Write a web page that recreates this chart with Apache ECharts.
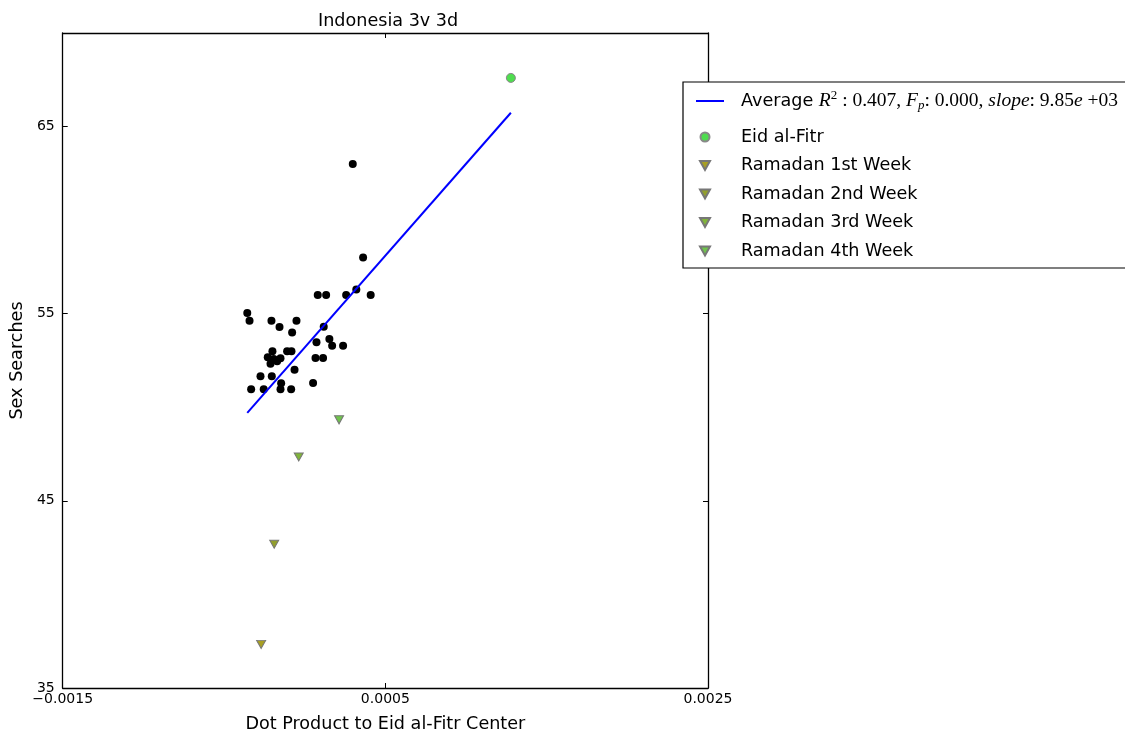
<!DOCTYPE html>
<html>
<head>
<meta charset="utf-8">
<script src="https://cdn.jsdelivr.net/npm/echarts@6/dist/echarts.min.js"></script>
<style>
    html, body { margin: 0; padding: 0; background: #fff; }
    #main { width: 1125px; height: 738px; }
</style>
</head>
<body>
<div id="main"></div>
<script>
    // 普通样本点
    var otherX = [0.000298, 0.000362, 0.000081, 0.000133, 0.000257, 0.000320, 0.000409,
        -0.000356, -0.000342, -0.000206, -0.000051, -0.000156, -0.000078, 0.000118,
        0.000073, 0.000153, 0.000170, 0.000238, -0.000200, -0.000109, -0.000082,
        -0.000229, -0.000192, -0.000150, -0.000212, 0.000067, 0.000114, -0.000063,
        -0.000274, -0.000204, -0.000146, 0.000052, -0.000332, -0.000254, -0.000150,
        -0.000084, -0.000171];
    var otherY = [63.0, 58.0, 56.0, 56.0, 56.0, 56.3, 56.0,
        55.04, 54.63, 54.63, 54.63, 54.29, 53.99, 54.31,
        53.47, 53.65, 53.29, 53.29, 52.99, 52.99, 52.99,
        52.67, 52.58, 52.62, 52.32, 52.63, 52.63, 52.0,
        51.66, 51.66, 51.28, 51.3, 50.96, 50.96, 50.96,
        50.96, 52.46];

    var eidX = [0.001278];
    var eidY = [67.6];

    var weekNames = ['Ramadan 1st Week', 'Ramadan 2nd Week', 'Ramadan 3rd Week', 'Ramadan 4th Week'];
    var weekX = [-0.000270, -0.000189, -0.000037, 0.000213];
    var weekY = [37.33, 42.68, 47.34, 49.33];
    var weekColors = ['#a89f22', '#929f2c', '#80b43a', '#6fc44c'];

    // 拟合线两端
    var fitX = [-0.000356, 0.001278];
    var fitY = [49.70, 65.74];

    var xTicks = [-0.0015, 0.0005, 0.0025];
    var yTicks = [35, 45, 55, 65];

    function pairs(xs, ys) {
        return xs.map(function (x, i) { return [x, ys[i]]; });
    }

    var triDown = 'path://M0,0 L10,0 L5,9 Z';
    var font = 'DejaVu Sans';

    var series = [{
        name: 'Other',
        type: 'scatter',
        symbol: 'circle',
        symbolSize: 8,
        itemStyle: { color: '#000', opacity: 1 },
        data: pairs(otherX, otherY)
    }, {
        name: 'Average',
        type: 'line',
        symbol: 'none',
        lineStyle: { color: '#0000ff', width: 2 },
        itemStyle: { color: '#0000ff' },
        data: pairs(fitX, fitY),
        z: 3
    }, {
        name: 'Eid al-Fitr',
        type: 'scatter',
        symbol: 'circle',
        symbolSize: 9,
        itemStyle: { color: '#4fdd4f', borderColor: '#888', borderWidth: 1, opacity: 1 },
        data: pairs(eidX, eidY)
    }];
    weekNames.forEach(function (n, i) {
        series.push({
            name: n,
            type: 'scatter',
            symbol: triDown,
            symbolSize: [9, 8],
            itemStyle: { color: weekColors[i], borderColor: '#777', borderWidth: 1, opacity: 1 },
            data: [[weekX[i], weekY[i]]]
        });
    });

    var xFmt = function (v) {
        return (v < 0 ? '\u2212' : '') + Math.abs(v).toFixed(4);
    };
    var yFmt = function (v) {
        return yTicks.indexOf(Math.round(v)) >= 0 ? String(Math.round(v)) : '';
    };

    var axisLine = { show: true, onZero: false, lineStyle: { color: '#000', width: 1.3 } };
    var tick = { show: true, inside: true, length: 5, lineStyle: { color: '#000' } };

    var option = {
        backgroundColor: '#fff',
        animation: false,
        title: {
            text: 'Indonesia 3v 3d',
            left: 313,
            top: 7,
            textStyle: { fontFamily: font, fontSize: 17.6, fontWeight: 'normal', color: '#000' }
        },
        grid: { left: 62, right: 417, top: 33, bottom: 49 },
        xAxis: [{
            type: 'value',
            min: -0.0015, max: 0.0025, interval: 0.002,
            position: 'bottom',
            name: 'Dot Product to Eid al-Fitr Center',
            nameLocation: 'middle',
            nameGap: 27,
            nameTextStyle: { fontFamily: font, fontSize: 17.6, color: '#000' },
            axisLine: axisLine, axisTick: tick,
            axisLabel: { formatter: xFmt, fontFamily: font, fontSize: 14, color: '#000', margin: 4 },
            splitLine: { show: false }
        }, {
            type: 'value',
            min: -0.0015, max: 0.0025, interval: 0.002,
            position: 'top',
            axisLine: axisLine, axisTick: tick,
            axisLabel: { show: false },
            splitLine: { show: false }
        }],
        yAxis: [{
            type: 'value',
            min: 35, max: 70, interval: 10,
            position: 'left',
            name: 'Sex Searches',
            nameLocation: 'middle',
            nameGap: 35,
            nameTextStyle: { fontFamily: font, fontSize: 17.6, color: '#000' },
            axisLine: axisLine, axisTick: tick,
            axisLabel: { formatter: yFmt, fontFamily: font, fontSize: 14, color: '#000', margin: 8 },
            splitLine: { show: false }
        }, {
            type: 'value',
            min: 35, max: 70, interval: 10,
            position: 'right',
            axisLine: axisLine, axisTick: tick,
            axisLabel: { show: false },
            splitLine: { show: false }
        }],
        graphic: [{
            type: 'rect',
            z: 50,
            shape: { x: 683, y: 82, width: 470, height: 186 },
            style: { fill: '#fff', stroke: '#000', lineWidth: 1.2 }
        }],
        legend: [{
            z: 60,
            left: 690,
            top: 84.5,
            itemWidth: 28,
            itemHeight: 9,
            data: [{ name: 'Average', itemStyle: { color: 'rgba(0,0,0,0)', borderWidth: 0, opacity: 0 } }],
            formatter: function () {
                return '{t|Average }{m|R}{sup|2}{n| : 0.407, }{m|F}{sub|p}{n|: 0.000, }{m|slope}{n|: 9.85}{m|e}{n| +03}';
            },
            textStyle: {
                fontFamily: font, fontSize: 17.6, color: '#000', padding: [0, 0, 0, 12],
                rich: {
                    t: { fontFamily: font, fontSize: 17.6, color: '#000' },
                    n: { fontFamily: 'Liberation Serif', fontSize: 19.5, color: '#000' },
                    m: { fontFamily: 'Liberation Serif', fontStyle: 'italic', fontSize: 19.5, color: '#000' },
                    sup: { fontFamily: 'Liberation Serif', fontSize: 13, color: '#000', padding: [0, 0, 10, 0] },
                    sub: { fontFamily: 'Liberation Serif', fontStyle: 'italic', fontSize: 13, color: '#000', padding: [10, 0, 0, 0] }
                }
            }
        }, {
            z: 60,
            orient: 'vertical',
            left: 694,
            top: 123,
            itemWidth: 30,
            itemHeight: 9,
            itemGap: 10.5,
            data: ['Eid al-Fitr'].concat(weekNames),
            textStyle: { fontFamily: font, fontSize: 17.6, color: '#000', padding: [0, 0, 0, 16] }
        }],
        series: series
    };

    var myChart = echarts.init(document.getElementById('main'));
    myChart.setOption(option);
</script>
</body>
</html>
